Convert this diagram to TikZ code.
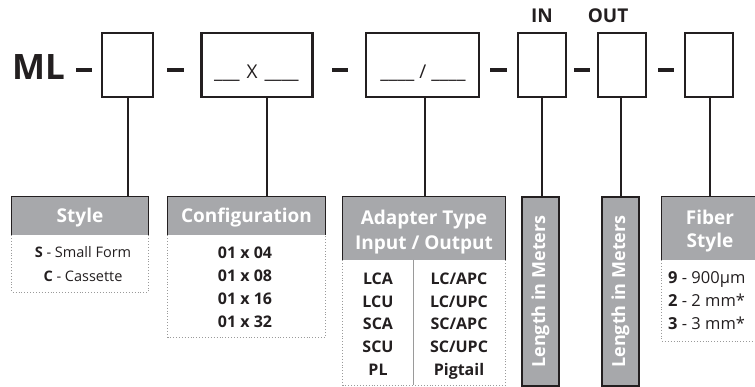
\documentclass[tikz,border=0pt]{standalone}
\usepackage{fontspec}
\setmainfont{Open Sans}
\definecolor{ink}{HTML}{231F20}
\definecolor{hgray}{HTML}{A7A8AB}
\definecolor{dgray}{HTML}{9A9A9A}
\tikzset{
  codebox/.style={draw=ink, line width=2.6pt, minimum height=64pt, inner sep=0pt},
  conn/.style={draw=ink, line width=2.6pt},
  dashmark/.style={draw=ink, line width=3.5pt},
  hdr/.style={fill=hgray, text=white, font=\bfseries\fontsize{19}{23}\selectfont, inner sep=0pt, align=center},
  hdredge/.style={draw=ink, line width=1.1pt},
  lenbox/.style={fill=hgray, draw=ink, line width=1.1pt, minimum width=37pt, minimum height=189pt, inner sep=0pt},
  dotbody/.style={draw=dgray, line width=0.9pt, dotted},
  sepline/.style={draw=dgray, line width=0.8pt},
  bodytxt/.style={font=\fontsize{14.5}{18}\selectfont, inner sep=0pt, anchor=base},
  fibtxt/.style={font=\fontsize{16.5}{18}\selectfont, inner sep=0pt, anchor=base west},
  bodybold/.style={font=\bfseries\fontsize{16}{18}\selectfont, inner sep=0pt, anchor=base},
}
\begin{document}
\begin{tikzpicture}[x=1pt,y=-1pt]
\useasboundingbox (0,0) rectangle (755,387);
% title
\node[font=\bfseries\fontsize{35}{40}\selectfont, inner sep=0pt, anchor=base west, text=ink] (ml) at (12,80) {ML};
\node[font=\bfseries\fontsize{19}{24}\selectfont, inner sep=0pt, anchor=base, text=ink] (in) at (542,23) {IN};
\node[font=\bfseries\fontsize{19}{24}\selectfont, inner sep=0pt, anchor=base, text=ink] (out) at (608,23) {OUT};
% code boxes
\node[codebox, minimum width=51pt] (b1) at (127.5,65) {};
\node[codebox, minimum width=111pt] (b2) at (257,65) {};
\node[codebox, minimum width=113pt] (b3) at (422.5,65) {};
\node[codebox, minimum width=48pt] (b4) at (542,65) {};
\node[codebox, minimum width=48pt] (b5) at (622,65) {};
\node[codebox, minimum width=48pt] (b6) at (709,65) {};
\node[font=\fontsize{19}{24}\selectfont, inner sep=0pt, anchor=base, text=ink] (t2) at (256.5,79) {\_\_\_\hspace{7pt}X\hspace{7pt}\_\_\_\_};
\node[font=\fontsize{19}{24}\selectfont, inner sep=0pt, anchor=base, text=ink] (t3) at (423,79) {\_\_\_\_\hspace{5pt}/\hspace{5pt}\_\_\_\_};
% dashes
\draw[dashmark] (76,70) -- (92,70);
\draw[dashmark] (167,70) -- (184,70);
\draw[dashmark] (332,70) -- (348,70);
\draw[dashmark] (490,70) -- (507,70);
\draw[dashmark] (574,70) -- (590,70);
\draw[dashmark] (658,70) -- (674,70);
% headers
\node[hdr, minimum width=136pt, minimum height=38pt] (sty) at (80,216) {};
\node[hdr, minimum width=157pt, minimum height=38pt] (cfg) at (246.5,216) {};
\node[hdr, minimum width=162pt, minimum height=63pt] (adp) at (424,228.5) {};
\node[hdr, minimum width=96pt, minimum height=63pt] (fib) at (710,228.5) {};
\node[lenbox] (len1) at (540.5,291.5) {};
\node[lenbox] (len2) at (620.5,291.5) {};
\draw[hdredge] (sty.south west) -- (sty.north west) -- (sty.north east) -- (sty.south east);
\draw[hdredge] (cfg.south west) -- (cfg.north west) -- (cfg.north east) -- (cfg.south east);
\draw[hdredge] (adp.south west) -- (adp.north west) -- (adp.north east) -- (adp.south east);
\draw[hdredge] (fib.south west) -- (fib.north west) -- (fib.north east) -- (fib.south east);
% header texts
\node[hdr, fill=none, anchor=base] (styt) at (80,223) {Style};
\node[hdr, fill=none, anchor=base] (cfgt) at (246.5,223) {Configuration};
\node[hdr, fill=none, anchor=base] (adpt1) at (424,225) {Adapter Type};
\node[hdr, fill=none, anchor=base] (adpt2) at (424,250) {Input / Output};
\node[hdr, fill=none, anchor=base] (fibt1) at (710,225) {Fiber};
\node[hdr, fill=none, anchor=base] (fibt2) at (710,248) {Style};
\node[hdr, fill=none, rotate=90, font=\bfseries\fontsize{18}{22}\selectfont] (len1t) at (len1.center) {Length in Meters};
\node[hdr, fill=none, rotate=90, font=\bfseries\fontsize{18}{22}\selectfont] (len2t) at (len2.center) {Length in Meters};
% bodies
\draw[dotbody] (sty.south west) -- ++(0,57) -| (sty.south east);
\draw[dotbody] (cfg.south west) -- ++(0,102) -| (cfg.south east);
\draw[dotbody] (adp.south west) -- ++(0,125) -| (adp.south east);
\draw[dotbody] (fib.south west) -- ++(0,81) -| (fib.south east);
\coordinate (sepa) at (413,260);
\draw[sepline] (sepa) -- ++(0,125);
% connectors
\coordinate (c1) at (b1.south -| 128,0);
\coordinate (c2) at (b2.south -| 267,0);
\coordinate (c3) at (b3.south -| 425,0);
\coordinate (c4) at (b4.south -| 542,0);
\coordinate (c5) at (b5.south -| 621,0);
\coordinate (c6) at (b6.south -| 710,0);
\draw[conn] (c1) -- (c1 |- sty.north);
\draw[conn] (c2) -- (c2 |- cfg.north);
\draw[conn] (c3) -- (c3 |- adp.north);
\draw[conn] (c4) -- (c4 |- len1.north);
\draw[conn] (c5) -- (c5 |- len2.north);
\draw[conn] (c6) -- (c6 |- fib.north);
% style body
\node[bodytxt, text=ink] (s1) at (83,258) {\textbf{S} - Small Form};
\node[bodytxt, text=ink] (s2) at (83,282) {\textbf{C} - Cassette};
% config body
\node[bodybold, text=ink] (k1) at (245,259) {01 x 04};
\node[bodybold, text=ink] (k2) at (245,282) {01 x 08};
\node[bodybold, text=ink] (k3) at (245,304.5) {01 x 16};
\node[bodybold, text=ink] (k4) at (245,327) {01 x 32};
% adapter body
\node[bodybold, text=ink] (a1) at (378,285) {LCA};
\node[bodybold, text=ink] (a2) at (378,307.5) {LCU};
\node[bodybold, text=ink] (a3) at (378,330) {SCA};
\node[bodybold, text=ink] (a4) at (378,352.5) {SCU};
\node[bodybold, text=ink] (a5) at (378,375) {PL};
\node[bodybold, text=ink] (o1) at (459,285) {LC/APC};
\node[bodybold, text=ink] (o2) at (459,307.5) {LC/UPC};
\node[bodybold, text=ink] (o3) at (459,330) {SC/APC};
\node[bodybold, text=ink] (o4) at (459,352.5) {SC/UPC};
\node[bodybold, text=ink] (o5) at (459,375) {Pigtail};
% fiber body
\node[fibtxt, text=ink] (f1) at (668,284) {\textbf{9} - 900µm};
\node[fibtxt, text=ink] (f2) at (668,307) {\textbf{2} - 2 mm*};
\node[fibtxt, text=ink] (f3) at (668,330) {\textbf{3} - 3 mm*};
\end{tikzpicture}
\end{document}
